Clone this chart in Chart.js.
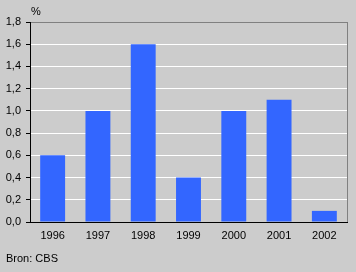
<!DOCTYPE html>
<html>
<head>
<meta charset="utf-8">
<script src="https://cdn.jsdelivr.net/npm/chart.js@4"></script>
<style>
  html, body { margin: 0; padding: 0; background: #cccccc; }
  #wrap { width: 356px; height: 272px; position: relative; }
</style>
</head>
<body>
<div id="wrap"><canvas id="chart" width="356" height="272"></canvas></div>
<script>
const years = ["1996", "1997", "1998", "1999", "2000", "2001", "2002"];
const values = [0.6, 1.0, 1.6, 0.4, 1.0, 1.1, 0.1];
const unitLabel = "%";
const sourceLabel = "Bron: CBS";

const fontFamily = "Arial, 'Liberation Sans', sans-serif";

// extra text + right frame line
const extras = {
  id: "extras",
  afterDraw(chart) {
    const { ctx, chartArea } = chart;
    ctx.save();
    ctx.strokeStyle = "#808080";
    ctx.lineWidth = 1;
    ctx.beginPath();
    ctx.moveTo(chartArea.right + 0.5, chartArea.top);
    ctx.lineTo(chartArea.right + 0.5, chartArea.bottom);
    ctx.stroke();

    ctx.fillStyle = "#000";
    ctx.font = "11px " + fontFamily;
    ctx.textBaseline = "middle";
    ctx.textAlign = "left";
    ctx.fillText(unitLabel, 31, 12);
    ctx.fillText(sourceLabel, 6, 259);
    ctx.restore();
  },
};

new Chart(document.getElementById("chart"), {
  type: "bar",
  data: {
    labels: years,
    datasets: [
      {
        data: values,
        backgroundColor: "#3366ff",
        borderWidth: 0,
        barPercentage: 0.55,
        categoryPercentage: 1,
      },
    ],
  },
  options: {
    responsive: false,
    animation: false,
    layout: { padding: { left: 0, top: 22, right: 9, bottom: 0 } },
    plugins: { legend: { display: false }, tooltip: { enabled: false } },
    scales: {
      x: {
        grid: { display: false, drawTicks: false },
        border: { color: "#000", width: 1 },
        ticks: {
          color: "#000",
          font: { family: fontFamily, size: 11 },
          padding: 7,
          maxRotation: 0,
        },
        afterFit(scale) {
          scale.height = 50;
        },
      },
      y: {
        min: 0,
        max: 1.8,
        grid: {
          color: (c) => (c.tick && c.tick.value >= 1.79 ? "#808080" : "#ffffff"),
          tickColor: "#000",
          tickLength: 4,
          lineWidth: 1,
        },
        border: { color: "#000", width: 1 },
        ticks: {
          stepSize: 0.2,
          color: "#000",
          font: { family: fontFamily, size: 11 },
          padding: 5,
          callback: (v) => v.toFixed(1).replace(".", ","),
        },
        afterFit(scale) {
          scale.width = 30;
        },
      },
    },
  },
  plugins: [extras],
});
</script>
</body>
</html>
